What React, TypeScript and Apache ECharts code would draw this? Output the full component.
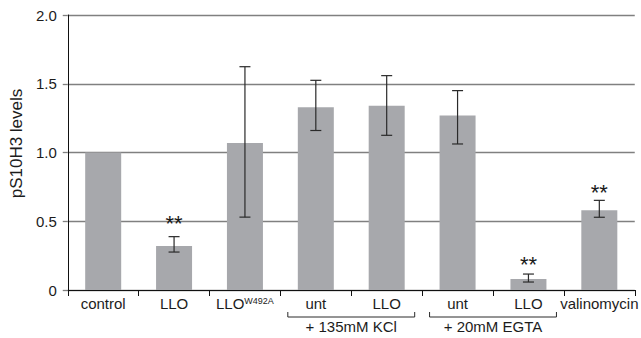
import React, { useEffect, useRef } from "react";
import * as echarts from "echarts";

// ---- data ----
const categories = ["control", "LLO", "LLO", "unt", "LLO", "unt", "LLO", "valinomycin"];
const categorySup = ["", "", "W492A", "", "", "", "", ""];
const barValues = [1.0, 0.32, 1.07, 1.33, 1.34, 1.27, 0.08, 0.58];
const errLow: (number | null)[] = [null, 0.276, 0.53, 1.16, 1.125, 1.062, 0.058, 0.529];
const errHigh: (number | null)[] = [null, 0.388, 1.624, 1.525, 1.559, 1.45, 0.116, 0.652];
const sigIndex = [1, 6, 7];
const sigLevel = [0.521, 0.225, 0.744];
const sigMark = "**";
const groupLabels = ["+ 135mM KCl", "+ 20mM EGTA"];
const groupFrom = [3, 5];
const groupTo = [4, 6];
const yTicks = { min: 0, max: 2, interval: 0.5 };
const yName = "pS10H3 levels";

const FONT = "'Liberation Sans', Arial, Helvetica, sans-serif";
const TEXT = "#1c1c1c";

export default function App() {
  const ref = useRef<HTMLDivElement>(null);
  useEffect(() => {
    if (!ref.current) return;
    const chart = echarts.init(ref.current, undefined, { renderer: "svg" });

    const errData = categories
      .map((_, i) => [i, errLow[i], errHigh[i]])
      .filter((d) => d[1] != null);
    const sigData = sigIndex.map((idx, k) => [idx, sigLevel[k]]);
    const groupData = groupLabels.map((_, k) => [groupFrom[k], groupTo[k], 0, k]);

    chart.setOption({
      animation: false,
      grid: { left: 66, right: 0, top: 15, bottom: 48, containLabel: false },
      xAxis: {
        type: "category",
        data: categories,
        boundaryGap: true,
        axisLine: { show: true, lineStyle: { color: "#111", width: 1 } },
        axisTick: { show: true, length: 6, lineStyle: { color: "#111", width: 1 } },
        axisLabel: {
          interval: 0,
          margin: 6,
          color: TEXT,
          fontSize: 15,
          fontFamily: FONT,
          formatter: (value: string, index: number) =>
            categorySup[index] ? `${value}{sup|${categorySup[index]}}` : value,
          rich: {
            sup: { fontSize: 9, fontFamily: FONT, color: TEXT, verticalAlign: "top", padding: [0, 0, 6, 0] },
          },
        },
        splitLine: { show: false },
      },
      yAxis: {
        type: "value",
        min: yTicks.min,
        max: yTicks.max,
        interval: yTicks.interval,
        name: yName,
        nameLocation: "middle",
        nameGap: 33,
        nameTextStyle: { fontSize: 17, fontFamily: FONT, color: TEXT, padding: [0, 0, 0, 18] },
        axisLine: { show: true, lineStyle: { color: "#111", width: 1 } },
        axisTick: { show: true, length: 5, lineStyle: { color: "#808080", width: 1.3 } },
        axisLabel: {
          margin: 11,
          color: TEXT,
          fontSize: 15,
          fontFamily: FONT,
          formatter: (v: number) => (v === 0 ? "0" : v.toFixed(1)),
        },
        splitLine: { show: true, lineStyle: { color: "#808080", width: 1.3 } },
      },
      series: [
        {
          type: "bar",
          data: barValues,
          barWidth: 36,
          itemStyle: { color: "#a7a8ac" },
          z: 2,
        },
        {
          type: "custom",
          data: errData,
          encode: { x: 0, y: [1, 2] },
          z: 5,
          renderItem: (params: any, api: any) => {
            const i = api.value(0);
            const lo = api.coord([i, api.value(1)]);
            const hi = api.coord([i, api.value(2)]);
            const hw = 5.5;
            const st = { stroke: "#2a2a2a", lineWidth: 1.2 };
            return {
              type: "group",
              children: [
                { type: "line", shape: { x1: lo[0], y1: lo[1], x2: hi[0], y2: hi[1] }, style: st },
                { type: "line", shape: { x1: lo[0] - hw, y1: lo[1], x2: lo[0] + hw, y2: lo[1] }, style: st },
                { type: "line", shape: { x1: hi[0] - hw, y1: hi[1], x2: hi[0] + hw, y2: hi[1] }, style: st },
              ],
            };
          },
        },
        {
          type: "custom",
          data: sigData,
          encode: { x: 0, y: 1 },
          z: 6,
          renderItem: (params: any, api: any) => {
            const p = api.coord([api.value(0), api.value(1)]);
            return {
              type: "text",
              style: {
                text: sigMark,
                x: p[0],
                y: p[1] + 5,
                align: "center",
                verticalAlign: "middle",
                fontSize: 22,
                fontFamily: FONT,
                fill: "#1a1a1a",
              },
            };
          },
        },
        {
          type: "custom",
          data: groupData,
          encode: { x: [0, 1], y: 2 },
          clip: false,
          z: 6,
          renderItem: (params: any, api: any) => {
            const a = api.coord([api.value(0), api.value(2)]);
            const b = api.coord([api.value(1), api.value(2)]);
            const k = api.value(3);
            const x1 = a[0] - 28;
            const x2 = b[0] + 28;
            const yb = a[1] + 27;
            const st = { stroke: "#2a2a2a", lineWidth: 1 };
            return {
              type: "group",
              children: [
                { type: "line", shape: { x1, y1: yb, x2, y2: yb }, style: st },
                { type: "line", shape: { x1, y1: yb - 5, x2: x1, y2: yb }, style: st },
                { type: "line", shape: { x1: x2, y1: yb - 5, x2, y2: yb }, style: st },
                {
                  type: "text",
                  style: {
                    text: groupLabels[k],
                    x: (x1 + x2) / 2,
                    y: a[1] + 36.5,
                    align: "center",
                    verticalAlign: "middle",
                    fontSize: 15,
                    fontFamily: FONT,
                    fill: TEXT,
                  },
                },
              ],
            };
          },
        },
      ],
    });
    return () => chart.dispose();
  }, []);

  return (
    <div
      ref={ref}
      style={{ position: "fixed", left: 0, top: 0, width: 641, height: 338, background: "#fff" }}
    />
  );
}
